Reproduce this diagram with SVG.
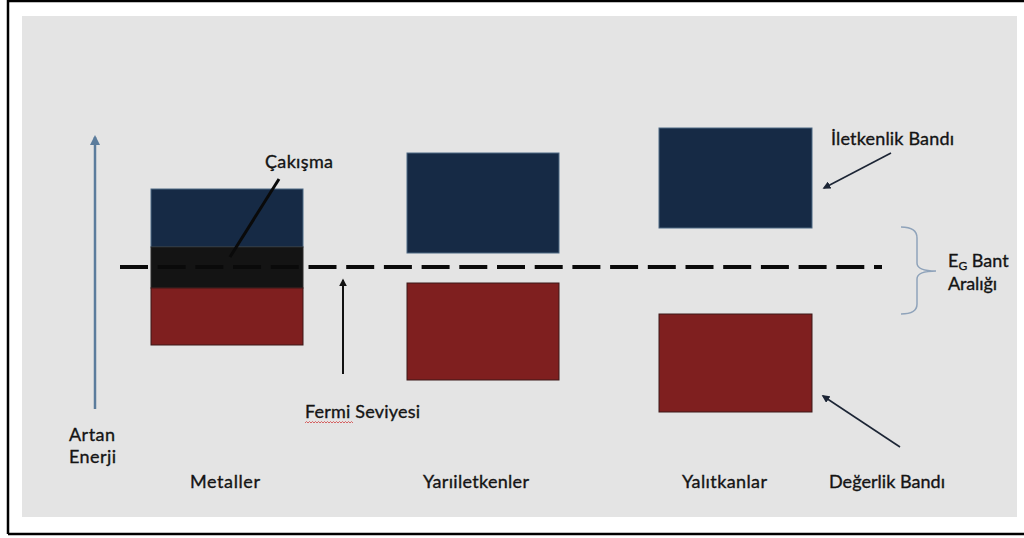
<svg xmlns="http://www.w3.org/2000/svg" width="1024" height="538" viewBox="0 0 1024 538">
<style>
.t{font-family:Lato,"Liberation Sans",sans-serif;font-size:18px;fill:#141414;stroke:#141414;stroke-width:0.35}
.cb{fill:#162a45;stroke:#4d6883;stroke-width:1}
.vb{fill:#7f1f1f;stroke:#3d1818;stroke-width:1}
.ln{fill:none;stroke:#1c2535;stroke-width:1.6}
</style>
<defs>
<marker id="ah" viewBox="0 0 10 10" refX="8" refY="5" markerWidth="5" markerHeight="5" orient="auto" markerUnits="strokeWidth">
<path d="M0,0 L10,5 L0,10 z" fill="#1c2535"/>
</marker>
<marker id="ahb" viewBox="0 0 10 10" refX="8" refY="5" markerWidth="4" markerHeight="4" orient="auto" markerUnits="strokeWidth">
<path d="M0,0 L10,5 L0,10 z" fill="#5b7c9c"/>
</marker>
<marker id="ahk" viewBox="0 0 10 10" refX="8" refY="5" markerWidth="4" markerHeight="4" orient="auto" markerUnits="strokeWidth">
<path d="M0,0 L10,5 L0,10 z" fill="#111"/>
</marker>
</defs>
<rect x="0" y="0" width="1024" height="538" fill="#fff"/>
<path d="M8,534 L8,1 L1024,1 M8,534 L1024,534" fill="none" stroke="#000" stroke-width="2.5"/>
<rect x="22" y="16" width="995" height="501" fill="#e4e4e4"/>

<g id="metaller">
<rect class="cb" x="151" y="189" width="152" height="58"/>
<rect x="151" y="247" width="152" height="41" fill="#141414" stroke="#2a2a2a" stroke-width="1"/>
<rect class="vb" x="151" y="288" width="152" height="57"/>
<text class="t" x="190" y="488" textLength="70">Metaller</text>
</g>
<g id="yariiletkenler">
<rect class="cb" x="407" y="153" width="152" height="100"/>
<rect class="vb" x="407" y="283" width="152" height="97"/>
<text class="t" x="423" y="488" textLength="106">Yarıiletkenler</text>
</g>
<g id="yalitkanlar">
<rect class="cb" x="659" y="128" width="153" height="100"/>
<rect class="vb" x="659" y="314" width="153" height="98"/>
<text class="t" x="682" y="488" textLength="85">Yalıtkanlar</text>
</g>

<g id="connectors">
<line x1="120" y1="267" x2="882" y2="267" stroke="#0a0a0a" stroke-width="4" stroke-dasharray="28 9.7"/>
<line x1="95" y1="409" x2="95" y2="137" stroke="#5b7c9c" stroke-width="2.5" marker-end="url(#ahb)"/>
<line x1="343" y1="374" x2="343" y2="280" stroke="#111" stroke-width="2" marker-end="url(#ahk)"/>
<line x1="279" y1="179" x2="230" y2="257" stroke="#0a0a0a" stroke-width="3"/>
<line class="ln" x1="891" y1="153" x2="824" y2="188" marker-end="url(#ah)"/>
<line class="ln" x1="900" y1="447" x2="823" y2="396" marker-end="url(#ah)"/>
<path d="M901,227 Q917,227 917,238 L917,263 Q917,271 936,271 Q917,271 917,279 L917,304 Q917,314 901,314" fill="none" stroke="#8fa3ba" stroke-width="1.5"/>
</g>

<g id="labels">
<text class="t" x="265" y="168" textLength="68">Çakışma</text>
<text class="t" x="831" y="145" textLength="123">İletkenlik Bandı</text>
<text class="t" x="948" y="267">E<tspan font-size="12" dy="3">G</tspan><tspan dy="-3"> Bant</tspan></text>
<text class="t" x="948" y="290" textLength="49">Aralığı</text>
<text class="t" x="69" y="441" textLength="46">Artan</text>
<text class="t" x="69" y="463" textLength="47">Enerji</text>
<text class="t" x="305" y="418" textLength="115">Fermi Seviyesi</text>
<path d="M305,423 l1.5,-1.5 l1.5,1.5 l1.5,-1.5 l1.5,1.5 l1.5,-1.5 l1.5,1.5 l1.5,-1.5 l1.5,1.5 l1.5,-1.5 l1.5,1.5 l1.5,-1.5 l1.5,1.5 l1.5,-1.5 l1.5,1.5 l1.5,-1.5 l1.5,1.5 l1.5,-1.5 l1.5,1.5 l1.5,-1.5 l1.5,1.5 l1.5,-1.5 l1.5,1.5 l1.5,-1.5 l1.5,1.5 l1.5,-1.5 l1.5,1.5 l1.5,-1.5 l1.5,1.5 l1.5,-1.5 l1.5,1.5 l1.5,-1.5 l1.5,1.5" fill="none" stroke="#d04040" stroke-width="0.8"/>
<text class="t" x="829" y="488" textLength="116">Değerlik Bandı</text>
</g>
</svg>
